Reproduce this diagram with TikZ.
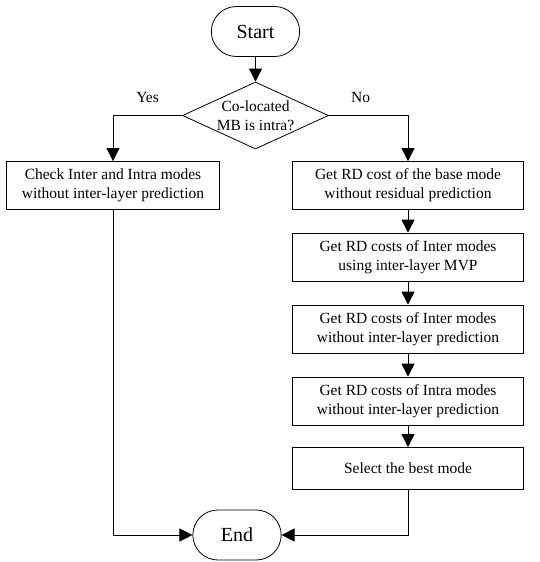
\documentclass[tikz,border=0pt]{standalone}
\usepackage{fontspec}
\setmainfont{Liberation Serif}
\usetikzlibrary{positioning, shapes.geometric, shapes.misc, arrows.meta}

\begin{document}
\begin{tikzpicture}[x=1pt,y=1pt,node distance=72pt,on grid,
    line width=0.8pt,
    every node/.style={font=\fontsize{15.5}{19}\selectfont},
    terminal/.style={draw,rounded rectangle,minimum width=95pt,minimum height=50pt,
      font=\fontsize{20}{24}\selectfont},
    decision/.style={draw,diamond,aspect=2.2,minimum width=146pt,minimum height=67pt,
      inner sep=0pt,align=center},
    process/.style={draw,rectangle,minimum width=231pt,minimum height=48pt,align=center},
    flow/.style={-{Triangle[length=13pt,width=13pt]}}]
  \useasboundingbox (0,0) rectangle (539,-562);

  \node[terminal] (start) at (255.5,-31.5) {Start};
  \node[decision] (dec) [below=84pt of start] {Co-located\\MB is intra?};
  \node[process,minimum width=213pt] (check) [below left=70pt and 142.5pt of dec]
    {Check Inter and Intra modes\\without inter-layer prediction};
  \node[process] (base) [below right=70pt and 152.5pt of dec]
    {Get RD cost of the base mode\\without residual prediction};
  \node[process] (mvp) [below=71.5pt of base] {Get RD costs of Inter modes\\using inter-layer MVP};
  \node[process] (inter) [below=of mvp] {Get RD costs of Inter modes\\without inter-layer prediction};
  \node[process] (intra) [below=of inter] {Get RD costs of Intra modes\\without inter-layer prediction};
  \node[process,minimum height=42pt] (best) [below=67.5pt of intra] {Select the best mode};
  \node[terminal] (end) [below left=66.5pt and 171pt of best] {End};

  \draw[flow] (start) -- (dec);
  \draw[flow] (dec.west) -| node[above=9pt,pos=0.25] {Yes} (check);
  \draw[flow] (dec.east) -| node[above=9pt,pos=0.2] {No} (base);
  \draw[flow] (base) -- (mvp);
  \draw[flow] (mvp) -- (inter);
  \draw[flow] (inter) -- (intra);
  \draw[flow] (intra) -- (best);
  \draw[flow] (check) |- (end);
  \draw[flow] (best) |- (end);
\end{tikzpicture}
\end{document}
